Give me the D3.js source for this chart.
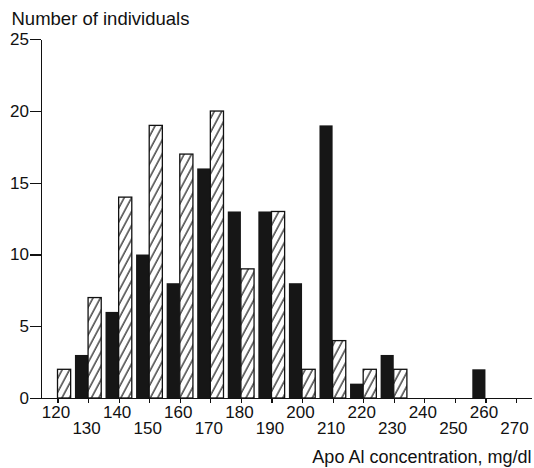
<!DOCTYPE html>
<html>
  <head>
    <meta charset="utf-8">
    <title>Apo AI histogram</title>
    <script type="text/javascript" src="https://cdn.jsdelivr.net/npm/d3@7"></script>
    <style type='text/css'>
      body { margin: 0; background: #fff; }
      svg text { font-family: "Liberation Sans", Arial, sans-serif; fill: #111; }
      .axis path, .axis line { stroke: #111; stroke-width: 1.2; shape-rendering: crispEdges; }
    </style>
  </head>
  <body>
    <script type="text/javascript">
      var w = 534;
      var h = 468;

      // bin centres (mg/dl) and counts for the two groups
      var bins = [120, 130, 140, 150, 160, 170, 180, 190, 200, 210, 220, 230, 240, 250, 260];
      var solidCounts = [0, 3, 6, 10, 8, 16, 13, 13, 8, 19, 1, 3, 0, 0, 2];
      var hatchedCounts = [2, 7, 14, 19, 17, 20, 9, 13, 2, 4, 2, 2, 0, 0, 0];
      var xTicks = [120, 130, 140, 150, 160, 170, 180, 190, 200, 210, 220, 230, 240, 250, 260, 270];
      var yTicks = [0, 5, 10, 15, 20, 25];

      var barUnits = 4.3; // width of one bar in mg/dl

      var svg = d3.select('body')
                  .append('svg')
                  .attr('width', w)
                  .attr('height', h);

      var xScale = d3.scaleLinear()
                     .domain([114.5, 275])
                     .range([40.7, 531.3]);

      var yScale = d3.scaleLinear()
                     .domain([0, 25])
                     .range([398, 39.3]);

      // diagonal hatching
      var pat = svg.append('defs').append('pattern')
          .attr('id', 'hatch')
          .attr('patternUnits', 'userSpaceOnUse')
          .attr('width', 6.5)
          .attr('height', 6.5)
          .attr('patternTransform', 'rotate(28)');
      pat.append('rect').attr('width', 6.5).attr('height', 6.5).attr('fill', '#fff');
      pat.append('line')
          .attr('x1', 1).attr('y1', 0).attr('x2', 1).attr('y2', 6.5)
          .attr('stroke', '#000').attr('stroke-width', 1.1);

      var solid = bins.map(function(b, i) { return {bin: b, value: solidCounts[i]}; })
                      .filter(function(d) { return d.value > 0; });
      var hatched = bins.map(function(b, i) { return {bin: b, value: hatchedCounts[i]}; })
                        .filter(function(d) { return d.value > 0; });

      svg.selectAll('rect.solid')
        .data(solid)
        .enter()
        .append('rect')
        .attr('class', 'solid')
        .attr('x', function(d) { return xScale(d.bin - barUnits); })
        .attr('y', function(d) { return yScale(d.value); })
        .attr('width', function(d) { return xScale(d.bin) - xScale(d.bin - barUnits); })
        .attr('height', function(d) { return yScale(0) - yScale(d.value); })
        .attr('fill', '#161616');

      svg.selectAll('rect.hatched')
        .data(hatched)
        .enter()
        .append('rect')
        .attr('class', 'hatched')
        .attr('x', function(d) { return xScale(d.bin); })
        .attr('y', function(d) { return yScale(d.value); })
        .attr('width', function(d) { return xScale(d.bin + barUnits) - xScale(d.bin); })
        .attr('height', function(d) { return yScale(0) - yScale(d.value); })
        .attr('fill', 'url(#hatch)')
        .attr('stroke', '#111')
        .attr('stroke-width', 1.3);

      var xAxis = d3.axisBottom()
                    .scale(xScale)
                    .tickValues(xTicks)
                    .tickSize(5)
                    .tickSizeOuter(0);

      var yAxis = d3.axisLeft()
                    .scale(yScale)
                    .tickValues(yTicks)
                    .tickSize(11)
                    .tickPadding(1)
                    .tickSizeOuter(0);

      var gx = svg.append('g')
          .attr('class', 'x axis')
          .attr('transform', 'translate(0,' + yScale(0) + ')')
          .call(xAxis);

      // staggered labels: 120, 140, ... on the upper row, 130, 150, ... below
      gx.selectAll('.tick text')
          .attr('dy', null)
          .attr('x', -2)
          .attr('y', function(d, i) { return i % 2 === 0 ? 20 : 35.5; })
          .style('font-size', '17px');

      var gy = svg.append('g')
          .attr('class', 'y axis')
          .attr('transform', 'translate(41,0)')
          .call(yAxis);

      gy.selectAll('.tick text')
          .style('font-size', '17px');

      svg.append('text')
          .attr('x', 11.5)
          .attr('y', 25)
          .style('font-size', '18.5px')
          .text('Number of individuals');

      svg.append('text')
          .attr('x', 531.5)
          .attr('y', 463)
          .style('text-anchor', 'end')
          .style('font-size', '18px')
          .text('Apo Al concentration, mg/dl');
    </script>
  </body>
</html>
